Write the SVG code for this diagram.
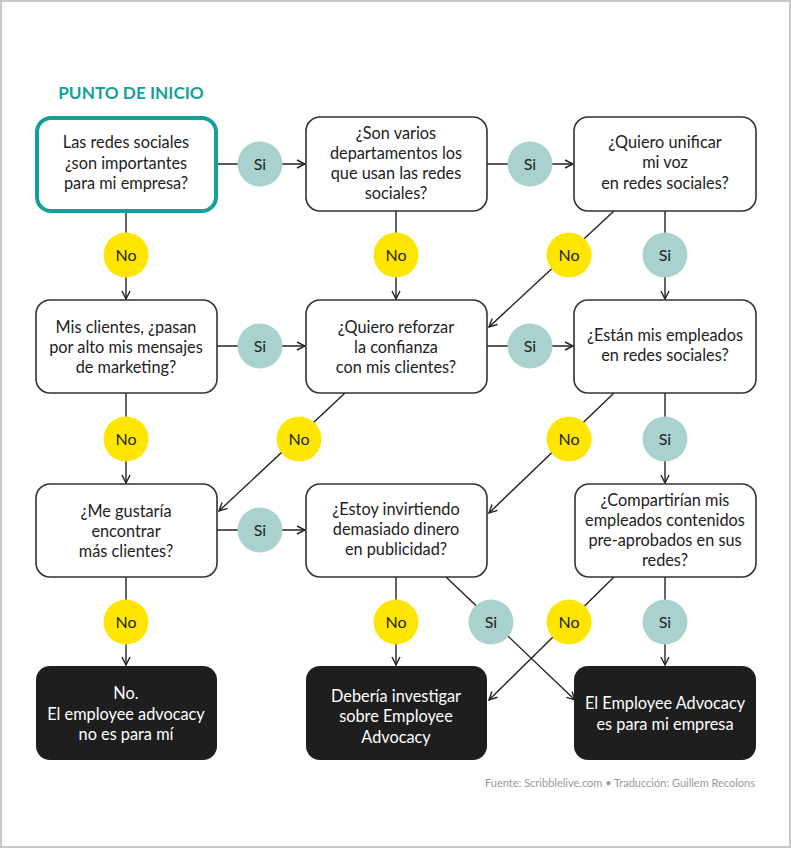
<svg xmlns="http://www.w3.org/2000/svg" width="791" height="848" viewBox="0 0 791 848">
<defs>
<marker id="arr" viewBox="0 0 10 10" refX="9" refY="5" markerWidth="10" markerHeight="10" markerUnits="userSpaceOnUse" orient="auto">
<path d="M1,1 L9,5 L1,9" fill="none" stroke="#222" stroke-width="1.4"/>
</marker>
<style>
.box{fill:#fff;stroke:#333;stroke-width:1.6}
.start{fill:#fff;stroke:#13a096;stroke-width:4}
.dark{fill:#1e1e1e;stroke:none}
.t{font-family:Lato,"Liberation Sans",sans-serif;font-size:16.3px;fill:#222;text-anchor:middle}
.tw{font-family:Lato,"Liberation Sans",sans-serif;font-size:16.3px;fill:#fff;text-anchor:middle}
.si{fill:#a9d1cd}
.no{fill:#ffe600}
.lab{font-family:Lato,"Liberation Sans",sans-serif;font-size:16px;fill:#222;text-anchor:middle}
.ln{stroke:#222;stroke-width:1.4;fill:none}
</style>
</defs>
<rect x="1" y="1" width="789" height="846" fill="#fff" stroke="#c8c8c8" stroke-width="2"/>
<text x="131" y="99" font-family="Lato,'Liberation Sans',sans-serif" font-size="17.2" font-weight="bold" fill="#13a096" text-anchor="middle">PUNTO DE INICIO</text>

<g id="connectors">
<line class="ln" x1="217" y1="164" x2="305" y2="164" marker-end="url(#arr)"/>
<line class="ln" x1="487" y1="164" x2="573" y2="164" marker-end="url(#arr)"/>
<line class="ln" x1="217" y1="346" x2="305" y2="346" marker-end="url(#arr)"/>
<line class="ln" x1="487" y1="346" x2="573" y2="346" marker-end="url(#arr)"/>
<line class="ln" x1="217" y1="530" x2="305" y2="530" marker-end="url(#arr)"/>
<line class="ln" x1="126" y1="211" x2="126" y2="299" marker-end="url(#arr)"/>
<line class="ln" x1="396" y1="211" x2="396" y2="299" marker-end="url(#arr)"/>
<line class="ln" x1="665" y1="211" x2="665" y2="299" marker-end="url(#arr)"/>
<line class="ln" x1="126" y1="393" x2="126" y2="483" marker-end="url(#arr)"/>
<line class="ln" x1="665" y1="393" x2="665" y2="483" marker-end="url(#arr)"/>
<line class="ln" x1="126" y1="577" x2="126" y2="665" marker-end="url(#arr)"/>
<line class="ln" x1="396" y1="577" x2="396" y2="665" marker-end="url(#arr)"/>
<line class="ln" x1="665" y1="577" x2="665" y2="665" marker-end="url(#arr)"/>
<line class="ln" x1="614" y1="211" x2="489" y2="327" marker-end="url(#arr)"/>
<line class="ln" x1="345" y1="393" x2="219" y2="511" marker-end="url(#arr)"/>
<line class="ln" x1="614" y1="393" x2="489" y2="513" marker-end="url(#arr)"/>
<line class="ln" x1="446" y1="577" x2="575" y2="700" marker-end="url(#arr)"/>
<line class="ln" x1="614" y1="577" x2="489" y2="700" marker-end="url(#arr)"/>
<g>
<circle class="si" cx="260" cy="164" r="22.5"/><text class="lab" x="260" y="170">Si</text>
<circle class="si" cx="530" cy="164" r="22.5"/><text class="lab" x="530" y="170">Si</text>
<circle class="si" cx="260" cy="346" r="22.5"/><text class="lab" x="260" y="352">Si</text>
<circle class="si" cx="530" cy="346" r="22.5"/><text class="lab" x="530" y="352">Si</text>
<circle class="si" cx="260" cy="530" r="22.5"/><text class="lab" x="260" y="536">Si</text>
<circle class="no" cx="126" cy="255" r="22.5"/><text class="lab" x="126" y="261">No</text>
<circle class="no" cx="396" cy="255" r="22.5"/><text class="lab" x="396" y="261">No</text>
<circle class="no" cx="569" cy="255" r="22.5"/><text class="lab" x="569" y="261">No</text>
<circle class="si" cx="665" cy="255" r="22.5"/><text class="lab" x="665" y="261">Si</text>
<circle class="no" cx="126" cy="439" r="22.5"/><text class="lab" x="126" y="445">No</text>
<circle class="no" cx="299" cy="439" r="22.5"/><text class="lab" x="299" y="445">No</text>
<circle class="no" cx="569" cy="439" r="22.5"/><text class="lab" x="569" y="445">No</text>
<circle class="si" cx="665" cy="439" r="22.5"/><text class="lab" x="665" y="445">Si</text>
<circle class="no" cx="126" cy="622" r="22.5"/><text class="lab" x="126" y="628">No</text>
<circle class="no" cx="396" cy="622" r="22.5"/><text class="lab" x="396" y="628">No</text>
<circle class="si" cx="491" cy="622" r="22.5"/><text class="lab" x="491" y="628">Si</text>
<circle class="no" cx="569" cy="622" r="22.5"/><text class="lab" x="569" y="628">No</text>
<circle class="si" cx="665" cy="622" r="22.5"/><text class="lab" x="665" y="628">Si</text>
</g>
</g>

<g id="n1"><rect class="start" x="37" y="118" width="179" height="93" rx="14"/>
<text class="t" x="126" y="148">Las redes sociales</text><text class="t" x="126" y="169">¿son importantes</text><text class="t" x="126" y="189">para mi empresa?</text></g>
<g id="n2"><rect class="box" x="306" y="117" width="181" height="94" rx="14"/>
<text class="t" x="396" y="139">¿Son varios</text><text class="t" x="396" y="159">departamentos los</text><text class="t" x="396" y="179">que usan las redes</text><text class="t" x="396" y="199">sociales?</text></g>
<g id="n3"><rect class="box" x="574" y="117" width="182" height="94" rx="14"/>
<text class="t" x="665" y="148">¿Quiero unificar</text><text class="t" x="665" y="168">mi voz</text><text class="t" x="665" y="189">en redes sociales?</text></g>
<g id="n4"><rect class="box" x="36" y="300" width="181" height="93" rx="14"/>
<text class="t" x="126" y="333">Mis clientes, ¿pasan</text><text class="t" x="126" y="353">por alto mis mensajes</text><text class="t" x="126" y="373">de marketing?</text></g>
<g id="n5"><rect class="box" x="306" y="300" width="181" height="93" rx="14"/>
<text class="t" x="396" y="333">¿Quiero reforzar</text><text class="t" x="396" y="353">la confianza</text><text class="t" x="396" y="373">con mis clientes?</text></g>
<g id="n6"><rect class="box" x="574" y="300" width="182" height="93" rx="14"/>
<text class="t" x="665" y="341">¿Están mis empleados</text><text class="t" x="665" y="361">en redes sociales?</text></g>
<g id="n7"><rect class="box" x="36" y="484" width="181" height="93" rx="14"/>
<text class="t" x="126" y="517">¿Me gustaría</text><text class="t" x="126" y="537">encontrar</text><text class="t" x="126" y="557">más clientes?</text></g>
<g id="n8"><rect class="box" x="306" y="484" width="181" height="93" rx="14"/>
<text class="t" x="396" y="515">¿Estoy invirtiendo</text><text class="t" x="396" y="535">demasiado dinero</text><text class="t" x="396" y="555">en publicidad?</text></g>
<g id="n9"><rect class="box" x="575" y="484" width="181" height="93" rx="14"/>
<text class="t" x="665" y="506">¿Compartirían mis</text><text class="t" x="665" y="526">empleados contenidos</text><text class="t" x="665" y="546">pre-aprobados en sus</text><text class="t" x="665" y="566">redes?</text></g>
<g id="n10"><rect class="dark" x="36" y="666" width="181" height="94" rx="14"/>
<text class="tw" x="126" y="699">No.</text><text class="tw" x="126" y="720">El employee advocacy</text><text class="tw" x="126" y="740">no es para mí</text></g>
<g id="n11"><rect class="dark" x="306" y="666" width="181" height="94" rx="14"/>
<text class="tw" x="396" y="702">Debería investigar</text><text class="tw" x="396" y="722">sobre Employee</text><text class="tw" x="396" y="743">Advocacy</text></g>
<g id="n12"><rect class="dark" x="574" y="666" width="182" height="94" rx="14"/>
<text class="tw" x="665" y="709">El Employee Advocacy</text><text class="tw" x="665" y="730">es para mi empresa</text></g>

<text x="755" y="787" font-family="Lato,'Liberation Sans',sans-serif" font-size="11" fill="#999" text-anchor="end">Fuente: Scribblelive.com • Traducción: Guillem Recolons</text>
</svg>
